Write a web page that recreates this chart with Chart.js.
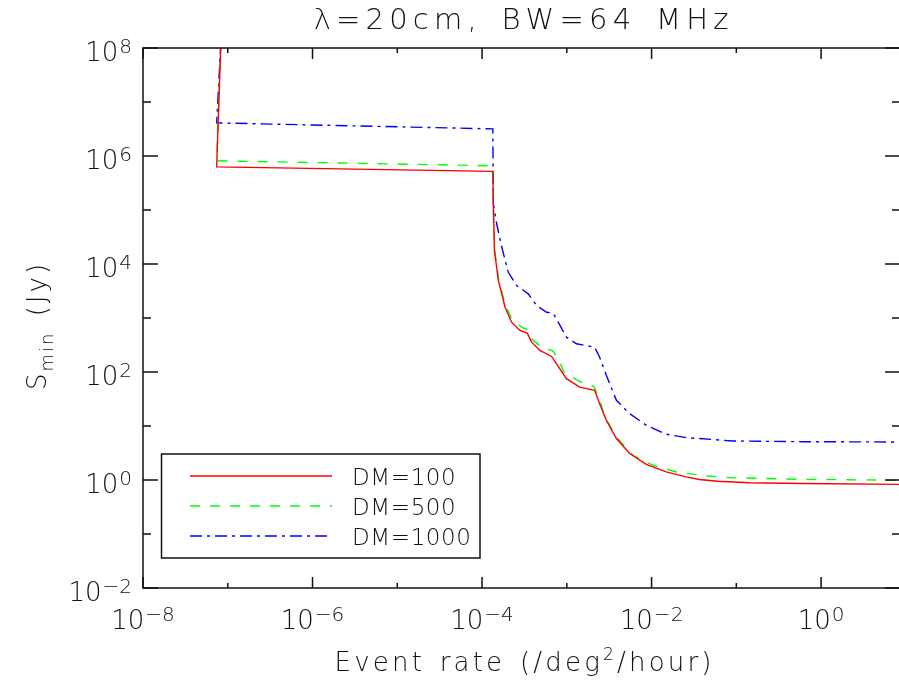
<!DOCTYPE html>
<html>
<head>
<meta charset="utf-8">
<script src="https://cdn.jsdelivr.net/npm/chart.js@4.4.1/dist/chart.umd.min.js"></script>
<style>
  html, body { margin: 0; padding: 0; background: #fff; }
</style>
</head>
<body>
<canvas id="myChart" width="899" height="687"></canvas>
<script>
// decades that get a label / a short tick only
const xLabelExps = [-8, -6, -4, -2, 0];
const xMinorExps = [-7, -5, -3, -1];
const yLabelExps = [-2, 0, 2, 4, 6, 8];
const yMinorExps = [-1, 1, 3, 5, 7];

const seriesLabels = ["DM=100", "DM=500", "DM=1000"];

// event rate (/deg^2/hour) and S_min (Jy)
const rate100 = [8.3e-8, 7.4e-8, 1.34e-4, 1.36e-4, 1.40e-4, 1.56e-4, 1.87e-4, 2.23e-4, 2.80e-4, 3.41e-4,
  3.85e-4, 4.81e-4, 6.61e-4, 7.57e-4, 9.9e-4, 1.42e-3, 2.13e-3, 2.44e-3, 2.93e-3, 3.85e-3,
  5.51e-3, 8.67e-3, 1.49e-2, 2.56e-2, 3.67e-2, 6.0e-2, 0.142, 0.6, 8.3];
const smin100 = [1.3e8, 6.3e5, 5.2e5, 1.12e5, 1.77e4, 4.9e3, 1.58e3, 836, 587, 524,
  357, 251, 194, 142, 75.2, 52.6, 45.7, 25.9, 12.7, 5.85,
  3.09, 1.94, 1.41, 1.14, 1.02, 0.95, 0.89, 0.86, 0.83];

const rate500 = [8.3e-8, 7.4e-8, 1.34e-4, 1.36e-4, 1.41e-4, 1.58e-4, 1.89e-4, 2.25e-4, 2.93e-4, 3.41e-4,
  3.87e-4, 4.94e-4, 6.90e-4, 7.83e-4, 9.46e-4, 1.56e-3, 2.08e-3, 2.44e-3, 2.80e-3, 3.85e-3,
  6.03e-3, 1.04e-2, 1.95e-2, 4.41e-2, 9.0e-2, 0.6, 8.3];
const smin500 = [1.3e8, 8.15e5, 6.59e5, 1.12e5, 1.77e4, 4.9e3, 1.70e3, 938, 676, 605,
  409, 291, 243, 178, 93, 62.4, 54.2, 31.2, 14.7, 6.26,
  2.87, 1.88, 1.41, 1.19, 1.10, 1.03, 0.99];

const rate1000 = [8.3e-8, 7.4e-8, 1.34e-4, 1.36e-4, 1.49e-4, 1.71e-4, 2.04e-4, 2.56e-4, 3.51e-4, 4.41e-4,
  5.77e-4, 6.90e-4, 7.91e-4, 9.9e-4, 1.30e-3, 2.13e-3, 2.44e-3, 2.93e-3, 3.85e-3, 5.51e-3,
  8.67e-3, 1.49e-2, 2.56e-2, 9.0e-2, 0.6, 8.3];
const smin1000 = [1.3e8, 4.1e6, 3.18e6, 1.29e5, 5.5e4, 2.04e4, 7.03e3, 3.99e3, 2.80e3, 1.70e3,
  1.28e3, 1.23e3, 836, 442, 333, 288, 188, 86.5, 29.9, 16.9,
  10.3, 7.03, 6.1, 5.28, 5.12, 5.06];

const FONT = '"DejaVu Sans", "Liberation Sans", sans-serif';
const INK = "#111111";

function pts(xs, ys) {
  return xs.map((x, i) => ({ x: x, y: ys[i] }));
}

function expText(e) {
  return e < 0 ? "\u2212" + (-e) : String(e);
}

// text drawn char by char with extra spacing (the reference font is very wide)
function spacedWidth(ctx, text, sp) {
  let w = 0;
  for (const ch of text) w += ctx.measureText(ch).width + (ch === " " ? sp * 2 : sp);
  return w - sp;
}
function drawSpaced(ctx, text, x, y, sp) {
  for (const ch of text) {
    ctx.fillText(ch, x, y);
    x += ctx.measureText(ch).width + (ch === " " ? sp * 2 : sp);
  }
  return x - sp;
}

// "10" with a raised exponent
function drawPow(ctx, e, x, y, align) {
  ctx.font = "200 26px " + FONT;
  const wb = ctx.measureText("10").width;
  ctx.font = "200 20px " + FONT;
  const we = ctx.measureText(expText(e)).width;
  let x0 = align === "right" ? x - wb - we - 1 : x - (wb + we + 1) / 2;
  ctx.font = "200 26px " + FONT;
  ctx.fillText("10", x0, y);
  ctx.font = "200 20px " + FONT;
  ctx.fillText(expText(e), x0 + wb + 1, y - 8);
}

const idlFrame = {
  id: "idlFrame",
  afterDraw(chart) {
    const ctx = chart.ctx;
    const a = chart.chartArea;
    const xs = chart.scales.x;
    const ys = chart.scales.y;
    const R = a.right + 1;

    ctx.save();
    ctx.strokeStyle = INK;
    ctx.lineWidth = 1.5;
    ctx.beginPath();
    ctx.moveTo(R, a.top); ctx.lineTo(a.left, a.top);
    ctx.lineTo(a.left, a.bottom); ctx.lineTo(R, a.bottom);
    ctx.stroke();

    ctx.beginPath();
    const xTick = (e, len) => {
      const px = xs.getPixelForValue(Math.pow(10, e));
      ctx.moveTo(px, a.bottom); ctx.lineTo(px, a.bottom - len);
      ctx.moveTo(px, a.top); ctx.lineTo(px, a.top + len);
    };
    const yTick = (e, len) => {
      const py = ys.getPixelForValue(Math.pow(10, e));
      ctx.moveTo(a.left, py); ctx.lineTo(a.left + len, py);
      ctx.moveTo(R, py); ctx.lineTo(R - len, py);
    };
    xLabelExps.forEach(e => xTick(e, 11));
    xMinorExps.forEach(e => xTick(e, 5));
    yLabelExps.forEach(e => yTick(e, 15));
    yMinorExps.forEach(e => yTick(e, 8));
    ctx.stroke();

    // tick labels
    ctx.fillStyle = INK;
    ctx.textBaseline = "alphabetic";
    ctx.textAlign = "left";
    xLabelExps.forEach(e => drawPow(ctx, e, xs.getPixelForValue(Math.pow(10, e)), 629, "center"));
    yLabelExps.forEach(e => drawPow(ctx, e, 132, ys.getPixelForValue(Math.pow(10, e)) + 13, "right"));

    // title
    ctx.font = "200 29px " + FONT;
    const title = chart.options.plugins.idlFrame.title;
    let w = spacedWidth(ctx, title, 5.2);
    drawSpaced(ctx, title, 521 - w / 2, 29, 5.2);

    // x title with superscript 2
    const xa = "Event rate (/deg", xb = "/hour)";
    const sp = 3.2;
    ctx.font = "200 17px " + FONT;
    const w2 = ctx.measureText("2").width;
    ctx.font = "200 26px " + FONT;
    w = spacedWidth(ctx, xa, sp) + sp + w2 + sp + spacedWidth(ctx, xb, sp);
    let xx = drawSpaced(ctx, xa, 523 - w / 2, 671, sp) + sp;
    ctx.font = "200 17px " + FONT;
    ctx.fillText("2", xx, 660);
    xx += w2 + sp;
    ctx.font = "200 26px " + FONT;
    drawSpaced(ctx, xb, xx, 671, sp);

    // y title, rotated, S with subscript min
    ctx.translate(46, 327);
    ctx.rotate(-Math.PI / 2);
    const ysp = 3;
    ctx.font = "200 26px " + FONT;
    const wS = ctx.measureText("S").width;
    const wJ = spacedWidth(ctx, " (Jy)", ysp);
    ctx.font = "200 18px " + FONT;
    const wm = spacedWidth(ctx, "min", 2);
    let yy = -(wS + 2 + wm + ysp + wJ) / 2;
    ctx.font = "200 26px " + FONT;
    ctx.fillText("S", yy, 0);
    yy += wS + 2;
    ctx.font = "200 18px " + FONT;
    yy = drawSpaced(ctx, "min", yy, 7, 2) + ysp;
    ctx.font = "200 26px " + FONT;
    drawSpaced(ctx, " (Jy)", yy, 0, ysp);
    ctx.restore();

    // legend box inside the plot
    ctx.save();
    ctx.strokeStyle = INK;
    ctx.lineWidth = 1.5;
    ctx.strokeRect(161.5, 454, 318.5, 104);
    chart.data.datasets.forEach((ds, i) => {
      const ly = 476 + i * 30;
      ctx.strokeStyle = ds.borderColor;
      ctx.lineWidth = ds.borderWidth;
      ctx.setLineDash(ds.borderDash || []);
      ctx.beginPath();
      ctx.moveTo(190, ly); ctx.lineTo(332, ly);
      ctx.stroke();
      ctx.setLineDash([]);
      ctx.fillStyle = INK;
      ctx.font = "200 23px " + FONT;
      drawSpaced(ctx, ds.label, 352, ly + 8.5, 0.6);
    });
    ctx.restore();
  }
};

new Chart(document.getElementById("myChart").getContext("2d"), {
  type: "line",
  data: {
    datasets: [
      {
        label: seriesLabels[0],
        data: pts(rate100, smin100),
        borderColor: "#ff0000",
        borderWidth: 1.4,
        pointRadius: 0,
        fill: false
      },
      {
        label: seriesLabels[1],
        data: pts(rate500, smin500),
        borderColor: "#00ff00",
        borderWidth: 1.4,
        borderDash: [10, 10],
        pointRadius: 0,
        fill: false
      },
      {
        label: seriesLabels[2],
        data: pts(rate1000, smin1000),
        borderColor: "#0000ff",
        borderWidth: 1.4,
        borderDash: [12, 5, 3, 5],
        pointRadius: 0,
        fill: false
      }
    ]
  },
  options: {
    responsive: false,
    animation: false,
    layout: { padding: { left: 143, top: 48, right: 0, bottom: 99 } },
    plugins: {
      legend: { display: false },
      tooltip: { enabled: false },
      idlFrame: { title: "\u03bb=20cm, BW=64 MHz" }
    },
    scales: {
      x: { type: "logarithmic", min: 1e-8, max: 8.3, display: false },
      y: { type: "logarithmic", min: 1e-2, max: 1e8, display: false }
    }
  },
  plugins: [idlFrame]
});
</script>
</body>
</html>
